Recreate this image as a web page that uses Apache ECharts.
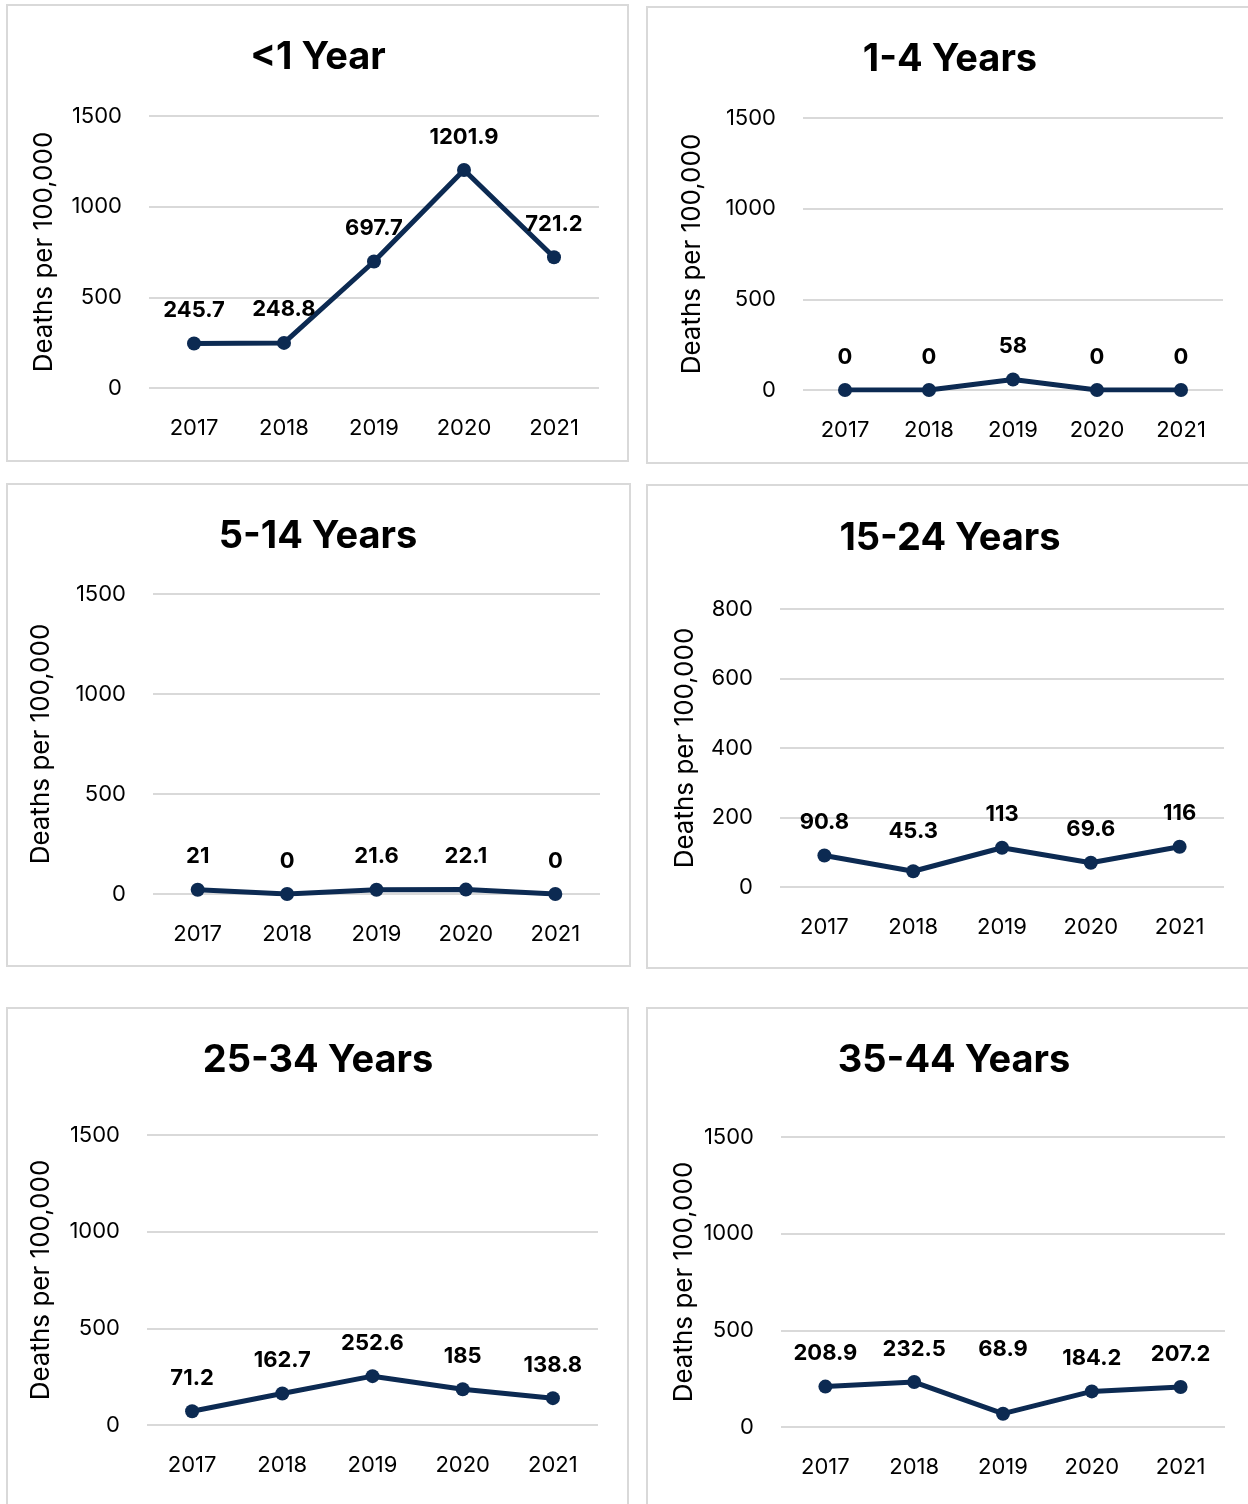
<!DOCTYPE html>
<html>
<head>
<meta charset="utf-8">
<script src="https://cdn.jsdelivr.net/npm/echarts@6/dist/echarts.min.js"></script>
<style>
  html, body { margin: 0; padding: 0; background: #fff; }
  #chart { width: 1248px; height: 1504px; }
</style>
</head>
<body>
<div id="chart"></div>
<script>
// data
const years = ['2017', '2018', '2019', '2020', '2021'];
const titles = ['<1 Year', '1-4 Years', '5-14 Years', '15-24 Years', '25-34 Years', '35-44 Years'];
const under1 = [245.7, 248.8, 697.7, 1201.9, 721.2];
const age1to4 = [0, 0, 58, 0, 0];
const age5to14 = [21, 0, 21.6, 22.1, 0];
const age15to24 = [90.8, 45.3, 113, 69.6, 116];
const age25to34 = [71.2, 162.7, 252.6, 185, 138.8];
const age35to44 = [208.9, 232.5, 68.9, 184.2, 207.2];
const seriesData = [under1, age1to4, age5to14, age15to24, age25to34, age35to44];
const yMax = [1500, 1500, 1500, 800, 1500, 1500];
const yStep = [500, 500, 500, 200, 500, 500];

// layout of each panel (pixels)
const boxes = [
  { x: 7, y: 5, w: 621, h: 456 },
  { x: 647, y: 7, w: 610, h: 456 },
  { x: 7, y: 484, w: 623, h: 482 },
  { x: 647, y: 485, w: 610, h: 483 },
  { x: 7, y: 1008, w: 621, h: 510 },
  { x: 647, y: 1008, w: 610, h: 510 }
];
const grids = [
  { left: 149, top: 116, width: 450, height: 272 },
  { left: 803, top: 118, width: 420, height: 272 },
  { left: 153, top: 594, width: 447, height: 300 },
  { left: 780, top: 609, width: 444, height: 278 },
  { left: 147, top: 1135, width: 451, height: 290 },
  { left: 781, top: 1137, width: 444, height: 290 }
];
const titlePos = [[318, 39], [950, 41], [318, 518], [950, 520], [318, 1042], [954, 1042]];
const nameGaps = [92, 98, 99, 82, 93, 84];
// labels that sit further above their point in the original
const labelLift = { '3-1': 7, '5-2': 31 };

const FONT = 'Inter, "Noto Sans", sans-serif';
const NAVY = '#0c2a52';

const chart = echarts.init(document.getElementById('chart'));

const option = {
  backgroundColor: '#fff',
  animation: false,
  title: titles.map((t, i) => ({
    text: t,
    left: titlePos[i][0],
    top: titlePos[i][1],
    padding: 0,
    textAlign: 'center',
    textStyle: { fontFamily: FONT, fontSize: 38, fontWeight: 'bold', color: '#000' }
  })),
  graphic: boxes.map(b => ({
    type: 'rect',
    shape: { x: b.x, y: b.y, width: b.w, height: b.h },
    style: { fill: 'none', stroke: '#d9d9d9', lineWidth: 2 },
    silent: true
  })),
  grid: grids,
  xAxis: grids.map((g, i) => ({
    type: 'category',
    gridIndex: i,
    data: years,
    boundaryGap: true,
    axisLine: { show: false },
    axisTick: { show: false },
    axisLabel: { color: '#000', fontFamily: FONT, fontSize: 22, margin: 29 }
  })),
  yAxis: grids.map((g, i) => ({
    type: 'value',
    gridIndex: i,
    min: 0,
    max: yMax[i],
    interval: yStep[i],
    name: 'Deaths per 100,000',
    nameLocation: 'middle',
    nameRotate: 90,
    nameGap: nameGaps[i],
    nameTextStyle: { color: '#000', fontFamily: FONT, fontSize: 26 },
    axisLine: { show: false },
    axisTick: { show: false },
    axisLabel: { color: '#000', fontFamily: FONT, fontSize: 22, margin: 27, formatter: v => String(v) },
    splitLine: { lineStyle: { color: '#d9d9d9', width: 2 } }
  })),
  series: seriesData.map((d, i) => ({
    type: 'line',
    xAxisIndex: i,
    yAxisIndex: i,
    data: d.map((v, j) => {
      const lift = labelLift[i + '-' + j];
      return lift ? { value: v, label: { distance: 15 + lift } } : v;
    }),
    symbol: 'circle',
    symbolSize: 14,
    lineStyle: { color: NAVY, width: 5 },
    itemStyle: { color: NAVY },
    label: {
      show: true,
      position: 'top',
      distance: 15,
      color: '#000',
      fontFamily: FONT,
      fontSize: 22,
      fontWeight: 'bold'
    }
  }))
};

chart.setOption(option);
</script>
</body>
</html>
